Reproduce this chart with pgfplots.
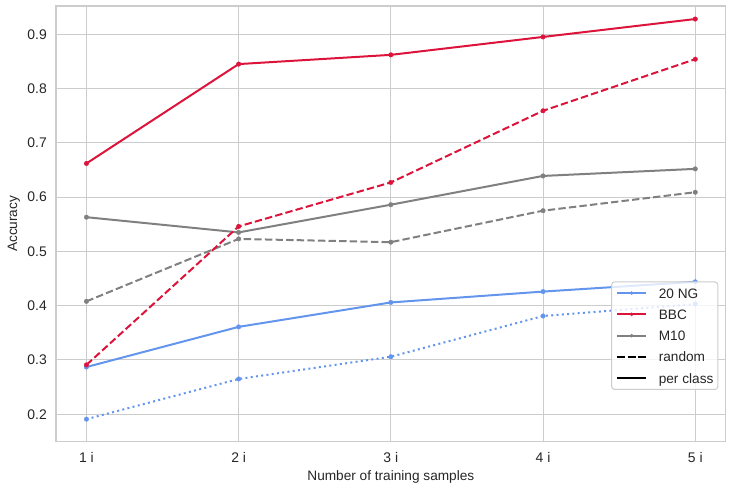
\documentclass[border=0pt]{standalone}
\usepackage{pgfplots}
\pgfplotsset{compat=1.18}
\usepackage{fontspec}
\setmainfont{Liberation Sans}
\definecolor{cfblue}{HTML}{6495ED}
\definecolor{crim}{HTML}{DC143C}
\definecolor{grayc}{HTML}{808080}
\definecolor{gridc}{HTML}{CCCCCC}
\definecolor{txt}{HTML}{262626}
\begin{document}
\begin{tikzpicture}
\useasboundingbox (-56bp,-48.3bp) rectangle (676bp,441.7bp);
\begin{axis}[
  at={(0,0)}, anchor=south west,
  scale only axis, width=669.7bp, height=435.7bp,
  xmin=0.8, xmax=5.2, ymin=0.1495, ymax=0.952,
  xtick={1,2,3,4,5}, xticklabels={1 i,2 i,3 i,4 i,5 i},
  ytick={0.2,0.3,0.4,0.5,0.6,0.7,0.8,0.9},
  /pgf/number format/assume math mode=true,
  yticklabel style={/pgf/number format/fixed, /pgf/number format/fixed zerofill, /pgf/number format/precision=1, xshift=-5.7bp},
  xticklabel style={yshift=-7bp},
  ticklabel style={font=\fontsize{14}{16}\selectfont, text=txt},
  major tick length=0pt,
  grid=major, grid style={draw=gridc, line width=1bp},
  axis line style={draw=gridc, line width=1.25bp},
  xlabel={Number of training samples},
  ylabel={Accuracy},
  xlabel style={at={(axis description cs:0.5,-0.0895)}, anchor=base, font=\fontsize{13.7}{16}\selectfont, text=txt},
  ylabel style={at={(axis description cs:-0.05823,0.5)}, anchor=base, font=\fontsize{13.7}{16}\selectfont, text=txt},
  every axis plot/.append style={line width=2bp, mark=*, mark size=2.3bp, mark options={solid, line width=0.3bp}},
  legend style={at={(0.989,0.1187)}, anchor=south east, draw=gridc, line width=1bp, rounded corners=3bp,
    fill=white, fill opacity=0.8, draw opacity=1, text opacity=1,
    inner xsep=4.4bp, inner ysep=0.7bp, row sep=0pt,
    font=\fontsize{13.7}{16}\selectfont, text=txt,
    nodes={inner xsep=0pt, inner ysep=0pt, text height=15.5bp, text depth=5.75bp}},
  legend cell align=left,
  legend image code/.code={\draw[mark repeat=2,mark phase=2,#1] plot coordinates {(0bp,0bp) (14.5bp,0bp) (29bp,0bp)}; \path (40.7bp,0bp);},
]
% 20 NG random (dotted)
\addplot[forget plot, cfblue, line cap=butt, dash pattern=on 2bp off 3.3bp]
  coordinates {(1,0.191) (2,0.265) (3,0.306) (4,0.381) (5,0.403)};
% 20 NG per class
\addplot[forget plot, cfblue]
  coordinates {(1,0.287) (2,0.361) (3,0.406) (4,0.426) (5,0.444)};
% M10 random
\addplot[forget plot, grayc, dash pattern=on 7.4bp off 3.2bp]
  coordinates {(1,0.408) (2,0.523) (3,0.517) (4,0.575) (5,0.609)};
% M10 per class
\addplot[forget plot, grayc]
  coordinates {(1,0.563) (2,0.535) (3,0.586) (4,0.639) (5,0.652)};
% BBC random
\addplot[forget plot, crim, dash pattern=on 7.4bp off 3.2bp]
  coordinates {(1,0.291) (2,0.546) (3,0.627) (4,0.759) (5,0.854)};
% BBC per class
\addplot[forget plot, crim]
  coordinates {(1,0.662) (2,0.845) (3,0.862) (4,0.895) (5,0.928)};
\addlegendimage{cfblue, line width=2bp, mark=*, mark size=1.7bp, mark options={line width=0.3bp}}
\addlegendentry{20 NG}
\addlegendimage{crim, line width=2bp, mark=*, mark size=1.7bp, mark options={line width=0.3bp}}
\addlegendentry{BBC}
\addlegendimage{grayc, line width=2bp, mark=*, mark size=1.7bp, mark options={line width=0.3bp}}
\addlegendentry{M10}
\addlegendimage{black, line width=2bp, mark=none, dash pattern=on 7.4bp off 3.2bp}
\addlegendentry{random}
\addlegendimage{black, line width=2bp, mark=none}
\addlegendentry{per class}
\end{axis}
\end{tikzpicture}
\end{document}
